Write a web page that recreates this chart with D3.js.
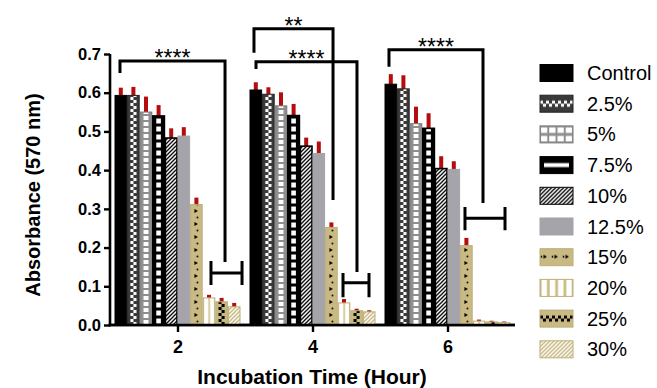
<!DOCTYPE html>
<html>
<head>
<meta charset="utf-8">
<script src="https://cdn.jsdelivr.net/npm/d3@7"></script>
<style>
  body { margin: 0; background: #fff; }
  svg { font-family: "Liberation Sans", Arial, sans-serif; }
</style>
</head>
<body>
<figure id="chart" style="margin:0"></figure>
<script>
// --- data ---
const hours = [2, 4, 6];
const series = ["Control", "2.5%", "5%", "7.5%", "10%", "12.5%", "15%", "20%", "25%", "30%"];
const yTicks = [0, 0.1, 0.2, 0.3, 0.4, 0.5, 0.6, 0.7];

const mean2h = [0.593, 0.593, 0.550, 0.540, 0.483, 0.488, 0.311, 0.070, 0.060, 0.047];
const err2h  = [0.020, 0.022, 0.040, 0.028, 0.025, 0.023, 0.018, 0.008, 0.010, 0.010];
const mean4h = [0.607, 0.596, 0.566, 0.541, 0.462, 0.443, 0.252, 0.057, 0.037, 0.034];
const err4h  = [0.020, 0.018, 0.035, 0.030, 0.022, 0.031, 0.013, 0.010, 0.005, 0.004];
const mean6h = [0.622, 0.610, 0.520, 0.508, 0.404, 0.402, 0.205, 0.010, 0.008, 0.006];
const err6h  = [0.026, 0.035, 0.044, 0.039, 0.032, 0.021, 0.020, 0.004, 0.003, 0.003];

// significance brackets (x in hours, y in absorbance)
const sigBrackets = [
  { label: "****", x1: 1.148, x2: 2.704, top: 0.682, left: 0.651, right: 0.163 },
  { label: "**",   x1: 3.133, x2: 4.304, top: 0.765, left: 0.703, right: 0.323 },
  { label: "****", x1: 3.163, x2: 4.659, top: 0.680, left: 0.661, right: 0.137 },
  { label: "****", x1: 5.133, x2: 6.526, top: 0.711, left: 0.667, right: 0.315 }
];
// "H" shaped range markers
const rangeMarks = [
  { x1: 2.496, x2: 2.956, y: 0.134, hi: 0.165, lo: 0.103 },
  { x1: 4.452, x2: 4.837, y: 0.109, hi: 0.134, lo: 0.072 },
  { x1: 6.259, x2: 6.852, y: 0.276, hi: 0.305, lo: 0.245 }
];

const means = [mean2h, mean4h, mean6h];
const errs = [err2h, err4h, err6h];

// --- styling ---
const TAN = "#c9b982";
const kinds = ["solid", "check", "grid", "ladder", "hatch", "solid", "tri", "cols", "checkB", "hatchW"];
const baseFill = ["#000", "#3a3a3a", "#8e8e8e", "#000", "#fff", "#a4a4aa", TAN, TAN, TAN, TAN];
const strokes = ["#000", "#222", "#7a7a7a", "#000", "#000", "#a4a4aa", "#bcae78", "#bcae78", "#bcae78", "#bcae78"];
const ERR = "#b50d0d";

const width = 657, height = 388;
const svg = d3.select("#chart").append("svg")
  .attr("width", width).attr("height", height);
const defs = svg.append("defs");

const x = d3.scaleLinear().domain([1, 7]).range([110, 515]);
const y = d3.scaleLinear().domain([0, 0.7]).range([325, 54]);
const band = d3.scaleBand().domain(series).range([-63, 63]).padding(0);
const bw = band.bandwidth();

// build a pattern tile; x0,y0 align the tile with the mark (in the mark's own coords)
function makePattern(id, i, x0, y0, legend) {
  const k = kinds[i];
  let w = legend ? 8.25 : bw, h = 6;
  if (k === "ladder") { w = legend ? 33 : bw; h = legend ? 17 : 8; }
  if (k === "tri") { w = legend ? 11 : bw; h = legend ? 17 : 13; }
  if (k === "cols") { w = legend ? 8.25 : bw; h = 10; }
  if (k === "hatch" || k === "hatchW") { w = 4; h = 4; }
  if (k === "grid" && legend) { h = 8.5; }
  if (k === "check" && legend) { w = 6; h = 17; }
  if (k === "checkB" && legend) { w = 6; h = 17; }
  const p = defs.append("pattern").attr("id", id)
    .attr("patternUnits", "userSpaceOnUse")
    .attr("x", x0).attr("y", y0).attr("width", w).attr("height", h);
  p.append("rect").attr("width", w).attr("height", h).attr("fill", baseFill[i]);
  const r = (a, b, c, d, f) => p.append("rect").attr("x", a).attr("y", b)
    .attr("width", c).attr("height", d).attr("fill", f);
  if (k === "check") {
    const cy = legend ? 5.5 : 0;
    r(w / 2 - 3, cy, 3, 3, "#fff"); r(w / 2, cy + 3, 3, 3, "#fff");
  } else if (k === "checkB") {
    const cy = legend ? 5.5 : 0;
    r(w / 2 - 3, cy, 3, 3, "#000"); r(w / 2, cy + 3, 3, 3, "#000");
  } else if (k === "grid") {
    const ww = legend ? 6.25 : 5;
    r(w / 2 - ww / 2, legend ? 1.5 : 1, ww, legend ? 5.5 : 4, "#fff");
  } else if (k === "ladder") {
    if (legend) r(4, 6.5, 25, 4, "#fff");
    else r(w / 2 - 2.3, 1.5, 4.6, 5, "#fff");
  } else if (k === "hatch" || k === "hatchW") {
    p.append("path").attr("d", "M-1,5 L5,-1 M-1,1 L1,-1 M3,5 L5,3")
      .attr("stroke", k === "hatch" ? "#000" : "#fff").attr("stroke-width", 1.3);
  } else if (k === "tri") {
    const cx = w / 2;
    const ty = legend ? 6 : 1;
    p.append("path").attr("d", `M${cx - 2},${ty} L${cx + 1.5},${ty + 2} L${cx - 2},${ty + 4} Z`).attr("fill", "#000");
    p.append("circle").attr("cx", legend ? cx - 4 : cx + 1).attr("cy", legend ? 8 : 9.5).attr("r", 0.9).attr("fill", "#000");
  } else if (k === "cols") {
    if (legend) r(1.5, 0, 5.5, h, "#fff");
    else { r(1.2, 0, 4.5, h, "#fff"); r(7.2, 0, 4.3, h, "#fff"); }
  }
  return `url(#${id})`;
}

// --- axes ---
const yAxis = svg.append("g").attr("transform", "translate(110,0)")
  .call(d3.axisLeft(y).tickValues(yTicks).tickFormat(d3.format(".1f")).tickSize(6).tickSizeOuter(0).tickPadding(3));
const xAxis = svg.append("g").attr("transform", "translate(0,325)")
  .call(d3.axisBottom(x).tickValues(hours).tickFormat(d3.format("d")).tickSize(7).tickSizeOuter(0).tickPadding(8));
[yAxis, xAxis].forEach(g => {
  g.select(".domain").attr("stroke", "#000").attr("stroke-width", 2.6);
  g.selectAll(".tick line").attr("stroke", "#000").attr("stroke-width", 2.4);
  g.selectAll(".tick text").attr("fill", "#000").style("font-weight", "bold").style("font-size", "16.5px")
    .style("font-family", "'Liberation Sans', Arial, sans-serif");
});
xAxis.selectAll(".tick text").style("font-size", "18px");
// close the corner between the two axis lines
yAxis.select(".domain").attr("d", `M0,${y(0.7)}V${y(0) + 1.3}`);
xAxis.select(".domain").attr("d", `M${110 - 1.3},0H515`);

// --- bars ---
const bars = [];
hours.forEach((hr, g) => series.forEach((s, i) => bars.push({ hr, g, i, v: means[g][i], e: errs[g][i] })));

svg.append("g").selectAll("rect.err")
  .data(bars).enter().append("rect")
  .attr("x", d => x(d.hr) + band(series[d.i]) + bw / 2 - 2)
  .attr("y", d => y(d.v + d.e))
  .attr("width", 4)
  .attr("height", d => y(d.v) - y(d.v + d.e) + 1)
  .attr("fill", ERR);

svg.append("g").selectAll("rect.bar")
  .data(bars).enter().append("rect")
  .attr("x", d => x(d.hr) + band(series[d.i]) + 0.5)
  .attr("y", d => y(d.v))
  .attr("width", bw - 1)
  .attr("height", d => y(0) - y(d.v))
  .attr("fill", d => kinds[d.i] === "solid" ? baseFill[d.i]
    : makePattern(`p${d.g}_${d.i}`, d.i, x(d.hr) + band(series[d.i]), y(0), false))
  .attr("stroke", d => strokes[d.i])
  .attr("stroke-width", d => (d.i === 3 || d.i === 4) ? 1.6 : 1);

// redraw x-axis line over bar bottoms
svg.append("line").attr("x1", 108.7).attr("x2", 515).attr("y1", 325).attr("y2", 325)
  .attr("stroke", "#000").attr("stroke-width", 2.6);

// --- significance annotations ---
const ann = svg.append("g").attr("fill", "none").attr("stroke", "#000").attr("stroke-width", 3);
ann.selectAll("path.br").data(sigBrackets).enter().append("path")
  .attr("d", d => `M${x(d.x1)},${y(d.left)}V${y(d.top)}H${x(d.x2)}V${y(d.right)}`);
ann.selectAll("path.hm").data(rangeMarks).enter().append("path")
  .attr("d", d => `M${x(d.x1)},${y(d.hi)}V${y(d.lo)}M${x(d.x1)},${y(d.y)}H${x(d.x2)}M${x(d.x2)},${y(d.hi)}V${y(d.lo)}`);
svg.append("g").selectAll("text").data(sigBrackets).enter().append("text")
  .attr("x", d => (x(d.x1) + x(d.x2)) / 2)
  .attr("y", d => y(d.top) + 5)
  .attr("text-anchor", "middle")
  .style("font-size", "23px")
  .text(d => d.label);

// --- axis titles ---
svg.append("text")
  .attr("x", 312).attr("y", 384)
  .attr("text-anchor", "middle")
  .style("font-size", "21px").style("font-weight", "bold")
  .text("Incubation Time (Hour)");
svg.append("text")
  .attr("transform", "translate(40,195) rotate(-90)")
  .attr("text-anchor", "middle")
  .style("font-size", "20px").style("font-weight", "bold")
  .text("Absorbance (570 nm)");

// --- legend ---
const leg = svg.append("g").selectAll("g").data(series).enter().append("g")
  .attr("transform", (d, i) => `translate(540,${73 + i * 30.7})`);
leg.append("rect")
  .attr("x", 0).attr("y", -8.5).attr("width", 33).attr("height", 17)
  .attr("fill", (d, i) => kinds[i] === "solid" ? baseFill[i]
    : makePattern(`lg${i}`, i, 0, -8.5, true))
  .attr("stroke", (d, i) => strokes[i]).attr("stroke-width", 1);
leg.append("text")
  .attr("x", 47).attr("y", 7)
  .style("font-size", "20px")
  .text(d => d);
</script>
</body>
</html>
